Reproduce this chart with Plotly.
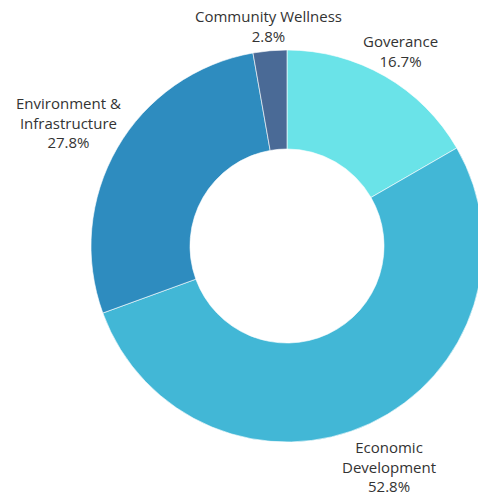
import plotly.graph_objects as go

labels = ["Goverance", "Economic Development", "Environment & Infrastructure", "Community Wellness"]
display_labels = ["Goverance", "Economic<br>Development", "Environment &<br>Infrastructure", "Community Wellness"]
values = [6, 19, 10, 1]
colors = ["#6AE3E8", "#42B7D6", "#2E8CBF", "#4A6A96"]

W, H = 486, 496
OFF = 8  # page body margin offset

# label block centres in pixel coords (x, y from top) as seen in page
label_px = [(400, 50.5), (389, 466.5), (68, 122.5), (268, 26)]

total = sum(values)

fig = go.Figure(go.Pie(
    labels=labels, values=values, hole=0.495, sort=False, direction="clockwise", rotation=0,
    marker=dict(colors=colors, line=dict(color="rgba(255,255,255,0.6)", width=1)),
    textinfo="none", hoverinfo="label+percent",
    domain=dict(x=[(91 - OFF) / W, (483 - OFF) / W],
                y=[(H - (442 - OFF)) / H, (H - (50 - OFF)) / H]),
    showlegend=False,
))

annotations = []
for lab, v, (px, py) in zip(display_labels, values, label_px):
    annotations.append(dict(
        text=f"{lab}<br>{100 * v / total:.1f}%",
        x=(px - OFF) / W, y=1 - (py - OFF) / H, xref="paper", yref="paper",
        xanchor="center", yanchor="middle", showarrow=False, align="center",
        font=dict(size=15, color="#333333", family="Open Sans, sans-serif"),
    ))

fig.update_layout(
    width=W, height=H, margin=dict(l=0, r=0, t=0, b=0),
    paper_bgcolor="white", plot_bgcolor="white",
    annotations=annotations,
)
fig.write_html("out.html")
